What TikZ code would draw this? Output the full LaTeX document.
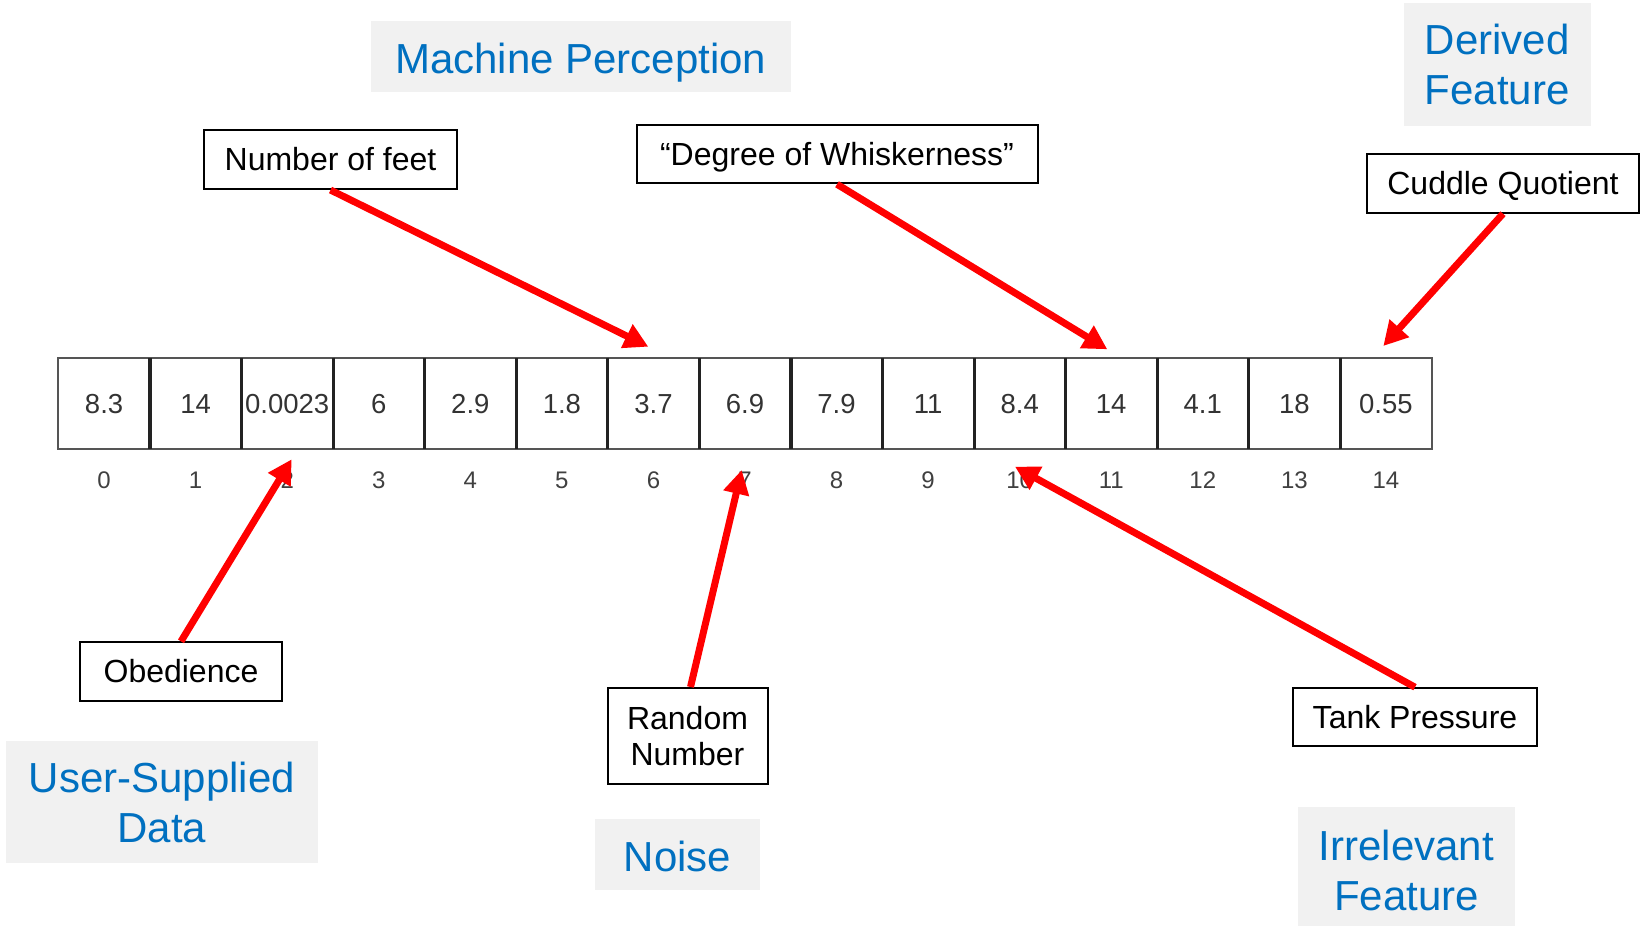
\documentclass[tikz,border=0pt]{standalone}
\usepackage{fontspec}
\setmainfont{Liberation Sans}
\usetikzlibrary{arrows.meta}
\definecolor{catblue}{HTML}{0070C0}
\definecolor{catgray}{HTML}{F1F1F1}
\definecolor{cellink}{HTML}{333333}
\definecolor{idxink}{HTML}{404040}
\definecolor{cellframe}{HTML}{555555}
\definecolor{sepink}{HTML}{222222}

\tikzset{
  category/.style={fill=catgray, draw=none, text=catblue, align=center, inner sep=0pt,
    font=\fontsize{42}{50}\selectfont},
  catline/.style={text height=38pt, text depth=8.9pt},
  cell/.style={draw=none, minimum width=91.56pt, minimum height=91pt, inner sep=0pt,
    text=cellink, font=\fontsize{27.5}{30}\selectfont, text height=24.9pt, text depth=5.8pt},
  index/.style={text=idxink, inner sep=0pt, font=\fontsize{24}{26}\selectfont,
    text height=21.7pt, text depth=5.1pt},
  tag/.style={draw=black, line width=2pt, fill=white, inner sep=0pt, align=center,
    font=\fontsize{32}{36.5}\selectfont},
  tagline/.style={text height=29pt, text depth=6.8pt},
  pointer/.style={draw=red, line width=7pt, -{Triangle[length=24pt,width=25pt]}}
}

\begin{document}
\begin{tikzpicture}[x=1pt, y=-1pt]
\useasboundingbox (0,0) rectangle (1642,926);

% category captions
\node[category, minimum width=420pt, minimum height=71pt] (mp) at (580.7,56.5) {};
\node[category, fill=none, catline] at (580.7,58.5) {Machine Perception};
\node[category, minimum width=186.7pt, minimum height=122.7pt] (df) at (1497.3,64.3) {Derived\\Feature};
\node[category, minimum width=311.7pt, minimum height=122.3pt] (us) at (162,802) {User-Supplied\\Data};
\node[category, minimum width=165.5pt, minimum height=71pt] (ns) at (677.5,854.5) {};
\node[category, fill=none, catline] at (677.5,856.5) {Noise};
\node[category, minimum width=217.8pt, minimum height=118.3pt] (irr) at (1406.4,866.5) {};
\node[category, fill=none] at (1406.4,870) {Irrelevant\\Feature};

% feature vector cells with their indices
\foreach \v [count=\i from 0] in {8.3,14,0.0023,6,2.9,1.8,3.7,6.9,7.9,11,8.4,14,4.1,18,0.55} {
  \node[cell] (c\i) at ({58.3+91.56*(\i+0.5)},403.5) {\v};
  \node[index] (i\i) at ({58.3+91.56*(\i+0.5)},480) {\i};
}
\draw[cellframe, line width=1.6pt] (c0.north west) rectangle (c14.south east);
\foreach \i in {0,...,13} {
  \draw[sepink, line width=3.2pt] (c\i.north east) -- (c\i.south east);
}

% feature labels
\node[tag, tagline, minimum width=253pt, minimum height=59pt] (nf) at (330.5,159.5) {Number of feet};
\node[tag, tagline, minimum width=401pt, minimum height=58.5pt] (dw) at (837,154) {“Degree of Whiskerness”};
\node[tag, tagline, minimum width=271.7pt, minimum height=58.4pt] (cq) at (1503,183.5) {Cuddle Quotient};
\node[tag, tagline, minimum width=201.7pt, minimum height=58.7pt] (ob) at (181,671.7) {Obedience};
\node[tag, minimum width=160pt, minimum height=96pt] (rn) at (687.5,736) {Random\\Number};
\node[tag, tagline, minimum width=244pt, minimum height=57.6pt] (tp) at (1415,717) {Tank Pressure};

% arrow tips on the vector
\coordinate (tFeet) at (648.3,346.7);
\coordinate (tWhisk) at (1107.3,349.3);
\coordinate (tCuddle) at (1383.3,346);
\coordinate (tObed) at (291.7,459.3);
\coordinate (tRand) at (741.7,470);
\coordinate (tTank) at (1015,466.7);

\draw[pointer] (nf.south) -- (tFeet);
\draw[pointer] (dw.south) -- (tWhisk);
\draw[pointer] (cq.south) -- (tCuddle);
\draw[pointer] (ob.north) -- (tObed);
\draw[pointer] ([xshift=3pt]rn.north) -- (tRand);
\draw[pointer] (tp.north) -- (tTank);
\end{tikzpicture}
\end{document}
